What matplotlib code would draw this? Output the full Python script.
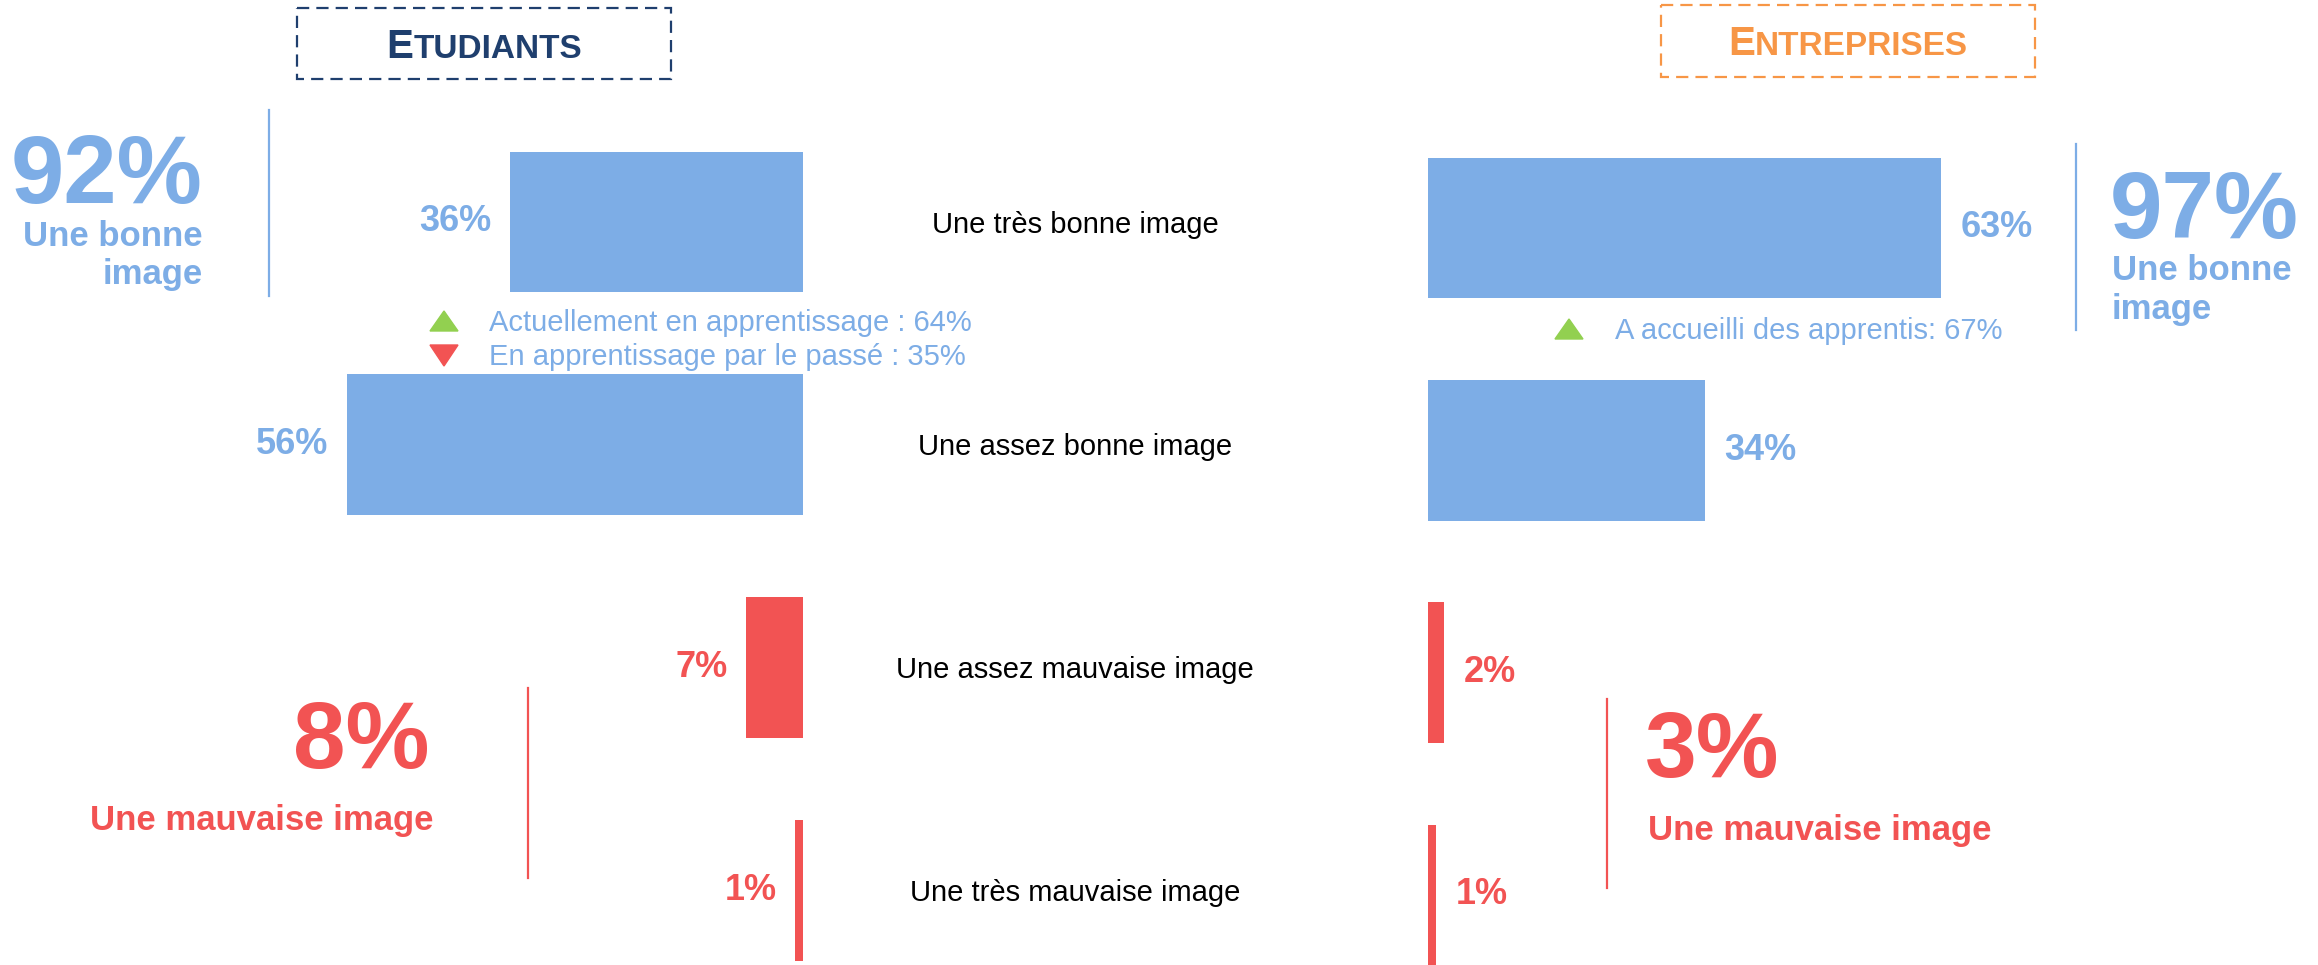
import matplotlib
matplotlib.use("Agg")
import matplotlib.pyplot as plt
from matplotlib.patches import Rectangle, Polygon
from matplotlib.transforms import blended_transform_factory

plt.rcParams['font.family'] = ['Liberation Sans', 'DejaVu Sans']

# data
categories = ["Une très bonne image", "Une assez bonne image",
              "Une assez mauvaise image", "Une très mauvaise image"]
etudiants = [36, 56, 7, 1]
entreprises = [63, 34, 2, 1]
etu_good, etu_bad = 92, 8
ent_good, ent_bad = 97, 3
etu_notes = ["Actuellement en apprentissage : 64%", "En apprentissage par le passé : 35%"]
ent_note = "A accueilli des apprentis: 67%"

BLUE = "#7DADE6"
RED = "#F25353"
GREEN = "#92D050"
NAVY = "#1F3F6E"
ORANGE = "#F79646"
row_colors = [BLUE, BLUE, RED, RED]

W, H = 2318, 965
PX_PER_PCT = 8.15
fig = plt.figure(figsize=(W / 100, H / 100), dpi=100)


def px_rect(x0, y0, x1, y1):
    return [x0 / W, 1 - y1 / H, (x1 - x0) / W, (y1 - y0) / H]


# overlay in pixel coordinates for the free text
ov = fig.add_axes([0, 0, 1, 1])
ov.set_xlim(0, W)
ov.set_ylim(H, 0)
ov.axis("off")

# left bars (Etudiants), growing to the left
axl = fig.add_axes(px_rect(803 - 70 * PX_PER_PCT, 100, 803, 965))
axl.barh(range(4), etudiants, height=0.633, color=row_colors)
axl.set_xlim(70, 0)
axl.set_ylim((965 - 222) / 222.7, (100 - 222) / 222.7)
axl.axis("off")
for i, v in enumerate(etudiants):
    axl.annotate(f"{v}%", xy=(v, i), xytext=(-13, 0), textcoords="offset points",
                 ha="right", va="center", fontsize=26, fontweight="bold",
                 color=row_colors[i])

# right bars (Entreprises)
axr = fig.add_axes(px_rect(1428, 100, 1428 + 70 * PX_PER_PCT, 965))
axr.barh(range(4), entreprises, height=0.633, color=row_colors)
axr.set_xlim(0, 70)
axr.set_ylim((965 - 228) / 222.3, (100 - 228) / 222.3)
axr.axis("off")
for i, v in enumerate(entreprises):
    axr.annotate(f"{v}%", xy=(v, i), xytext=(14, 0), textcoords="offset points",
                 ha="left", va="center", fontsize=26, fontweight="bold",
                 color=row_colors[i])

# category labels in the middle
tr = blended_transform_factory(ov.transData, axl.transData)
for i, c in enumerate(categories):
    ov.text(1075, i + 0.012, c, transform=tr, ha="center", va="center", fontsize=21, color="black")

# header boxes with small caps titles
renderer = fig.canvas.get_renderer()


def header(x0, y0, x1, y1, word, color, baseline):
    ov.add_patch(Rectangle((x0, y0), x1 - x0, y1 - y0, fill=False, edgecolor=color,
                           lw=1.6, linestyle=(0, (5.5, 3.2))))
    t1 = ov.text(0, baseline, word[0], fontsize=29, fontweight="bold", color=color, va="baseline")
    t2 = ov.text(0, baseline, word[1:].upper(), fontsize=24, fontweight="bold", color=color, va="baseline")
    w1 = t1.get_window_extent(renderer).width
    w2 = t2.get_window_extent(renderer).width
    start = (x0 + x1) / 2 - (w1 + w2) / 2
    t1.set_x(start)
    t2.set_x(start + w1)


header(297, 8, 671, 79, "Etudiants", NAVY, 58)
header(1661, 5, 2035, 77, "Entreprises", ORANGE, 55)

# summary figures
ov.text(202, 203, f"{etu_good}%", ha="right", va="baseline", fontsize=69, fontweight="bold", color=BLUE)
ov.text(203, 246, "Une bonne", ha="right", va="baseline", fontsize=25, fontweight="bold", color=BLUE)
ov.text(203, 284, "image", ha="right", va="baseline", fontsize=25, fontweight="bold", color=BLUE)
ov.plot([269, 269], [110, 296], color=BLUE, lw=1.6)

ov.text(2110, 238, f"{ent_good}%", ha="left", va="baseline", fontsize=68, fontweight="bold", color=BLUE)
ov.text(2112, 280, "Une bonne", ha="left", va="baseline", fontsize=25, fontweight="bold", color=BLUE)
ov.text(2112, 319, "image", ha="left", va="baseline", fontsize=25, fontweight="bold", color=BLUE)
ov.plot([2076, 2076], [144, 330], color=BLUE, lw=1.6)

ov.text(429, 768, f"{etu_bad}%", ha="right", va="baseline", fontsize=68, fontweight="bold", color=RED)
ov.text(434, 830, "Une mauvaise image", ha="right", va="baseline", fontsize=25, fontweight="bold", color=RED)
ov.plot([528, 528], [688, 878], color=RED, lw=1.6)

ov.text(1645, 777, f"{ent_bad}%", ha="left", va="baseline", fontsize=67, fontweight="bold", color=RED)
ov.text(1648, 840, "Une mauvaise image", ha="left", va="baseline", fontsize=25, fontweight="bold", color=RED)
ov.plot([1607, 1607], [699, 888], color=RED, lw=1.6)

# notes with arrows
ov.add_patch(Polygon([(430, 331), (458, 331), (444, 311)], closed=True, color=GREEN))
ov.add_patch(Polygon([(430, 345), (458, 345), (444, 366)], closed=True, color=RED))
ov.text(489, 331, etu_notes[0], ha="left", va="baseline", fontsize=21, color=BLUE)
ov.text(489, 365, etu_notes[1], ha="left", va="baseline", fontsize=21, color=BLUE)

ov.add_patch(Polygon([(1555, 339), (1583, 339), (1569, 319)], closed=True, color=GREEN))
ov.text(1615, 339, ent_note, ha="left", va="baseline", fontsize=21, color=BLUE)

fig.savefig("out.png", dpi=100)
